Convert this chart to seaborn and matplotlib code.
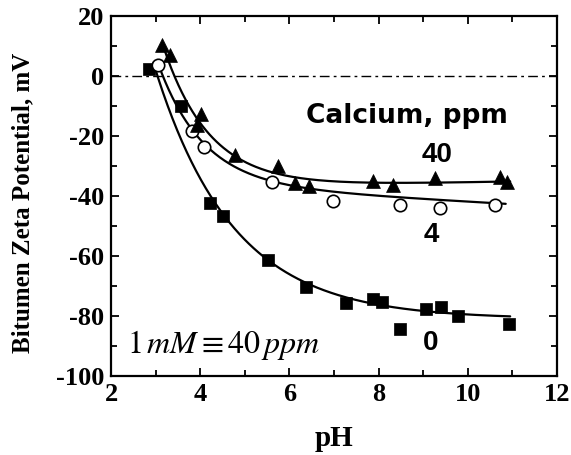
import numpy as np
import pandas as pd
import matplotlib
matplotlib.use("Agg")
import matplotlib.pyplot as plt
import seaborn as sns

# Measured zeta potentials (mV) of bitumen vs pH at three calcium levels
ph_0 = [2.86, 3.58, 4.22, 4.50, 5.53, 6.37, 7.27, 7.88, 8.07, 8.48, 9.06, 9.39, 9.77, 10.93]
zeta_0 = [2.2, -10.0, -42.2, -46.7, -61.3, -70.3, -75.8, -74.4, -75.2, -84.4, -77.8, -77.1, -80.0, -82.7]

ph_4 = [3.06, 3.81, 4.08, 5.61, 6.98, 8.48, 9.38, 10.61]
zeta_4 = [3.7, -18.3, -23.8, -35.2, -41.6, -43.0, -44.1, -43.0]

ph_40 = [3.14, 3.32, 3.92, 4.02, 4.78, 5.75, 6.13, 6.43, 7.88, 8.33, 9.26, 10.72, 10.87]
zeta_40 = [10.3, 7.0, -16.3, -12.8, -26.3, -30.0, -35.7, -36.5, -35.0, -36.3, -34.1, -33.8, -35.2]

# Fitted trend lines: zeta = plateau + slope*(pH - pH0) + amp*exp(-rate*(pH - pH0))
fit_0 = dict(plateau=-81.0, slope=0.0, amp=83.0, rate=0.572, ph0=3.0, lo=2.95, hi=10.95)
fit_4 = dict(plateau=-36.0, slope=-0.85, amp=40.0, rate=1.0, ph0=3.06, lo=3.06, hi=10.85)
fit_40 = dict(plateau=-37.5, slope=0.30, amp=46.2, rate=0.95, ph0=3.2, lo=3.2, hi=10.95)

x_ticks = [2, 4, 6, 8, 10, 12]
y_ticks = [20, 0, -20, -40, -60, -80, -100]

sns.set_theme(style="ticks")
plt.rcParams.update({
    "mathtext.fontset": "stix",
    "font.family": ["Liberation Serif", "DejaVu Serif"],
    "text.color": "black",
    "axes.labelcolor": "black",
    "xtick.color": "black",
    "ytick.color": "black",
    "axes.edgecolor": "black",
})

fig = plt.figure(figsize=(5.71, 4.55), dpi=100)
ax = fig.add_axes([0.1944, 0.1736, 0.7811, 0.7912])


def trend(p):
    x = np.linspace(p["lo"], p["hi"], 300)
    y = p["plateau"] + p["slope"] * (x - p["ph0"]) + p["amp"] * np.exp(-p["rate"] * (x - p["ph0"]))
    return pd.DataFrame({"pH": x, "zeta": y})


for p in (fit_0, fit_4, fit_40):
    sns.lineplot(data=trend(p), x="pH", y="zeta", ax=ax, color="black", lw=1.6,
                 estimator=None, sort=False)

ax.axhline(0, color="black", lw=1.0, ls=(0, (7, 3, 2, 3)), zorder=1)

sns.scatterplot(x=ph_0, y=zeta_0, ax=ax, marker="s", s=64, color="black",
                edgecolor="black", linewidth=0.5, zorder=4)
sns.scatterplot(x=ph_4, y=zeta_4, ax=ax, marker="o", s=80, facecolor="white",
                edgecolor="black", linewidth=1.2, zorder=4)
sns.scatterplot(x=ph_40, y=zeta_40, ax=ax, marker="^", s=100, color="black",
                edgecolor="black", linewidth=0.5, zorder=4)

ax.set_xlim(2, 12)
ax.set_ylim(-100, 20)
ax.set_xticks(x_ticks)
ax.set_yticks(y_ticks)
ax.set_xticks(np.arange(3, 12, 2), minor=True)
ax.set_yticks(np.arange(-90, 20, 20), minor=True)
ax.set_xticklabels([str(t) for t in x_ticks])
ax.set_yticklabels([str(t) for t in y_ticks])

ax.tick_params(which="both", direction="in", top=True, right=True, color="black", width=1.3)
ax.tick_params(which="major", length=6, labelsize=19, pad=5)
ax.tick_params(which="minor", length=4)
for lab in ax.get_xticklabels() + ax.get_yticklabels():
    lab.set_fontweight("bold")

for s in ax.spines.values():
    s.set_color("black")
    s.set_linewidth(1.6)

ax.set_xlabel("pH", fontsize=21, fontweight="bold")
ax.set_ylabel("Bitumen Zeta Potential, mV", fontsize=18, fontweight="bold")
ax.xaxis.set_label_coords(0.5, -0.135)
ax.yaxis.set_label_coords(-0.172, 0.48)

ax.text(8.63, -15.8, "Calcium, ppm", fontsize=19, fontweight="bold",
        family=["DejaVu Sans"], ha="center", va="baseline")
ax.text(9.30, -26.3, "40", fontsize=20, fontweight="bold", family=["Liberation Sans"],
        ha="center", va="center")
ax.text(9.19, -53.0, "4", fontsize=20, fontweight="bold", family=["Liberation Sans"],
        ha="center", va="center")
ax.text(9.17, -89.1, "0", fontsize=20, fontweight="bold", family=["Liberation Sans"],
        ha="center", va="center")
ax.text(4.52, -92.3, r"$1\,mM \equiv 40\,ppm$", fontsize=23, ha="center", va="baseline")

fig.savefig("out.png", dpi=100, facecolor="white")
